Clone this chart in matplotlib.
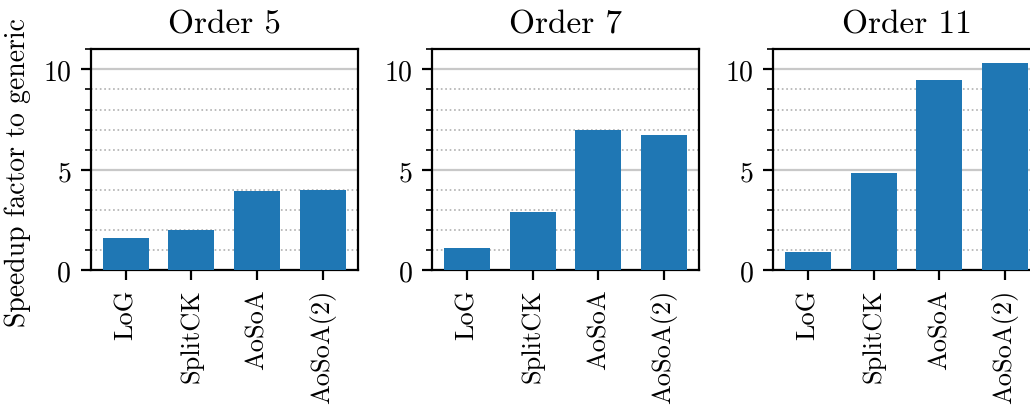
import numpy as np
import matplotlib
matplotlib.use("Agg")
import matplotlib.pyplot as plt
from matplotlib.ticker import MultipleLocator

# Computer Modern っぽいフォント
plt.rcParams['font.family'] = 'serif'
plt.rcParams['font.serif'] = ['cmr10']
plt.rcParams['mathtext.fontset'] = 'cm'
plt.rcParams['axes.formatter.use_mathtext'] = True
plt.rcParams['font.size'] = 10
plt.rcParams['axes.unicode_minus'] = False

# データ
variants = ['LoG', 'SplitCK', 'AoSoA', 'AoSoA(2)']
orders = ['Order 5', 'Order 7', 'Order 11']
speedup_o5 = [1.60, 2.00, 3.95, 3.98]
speedup_o7 = [1.10, 2.90, 6.97, 6.72]
speedup_o11 = [0.91, 4.83, 9.45, 10.30]
all_speedups = [speedup_o5, speedup_o7, speedup_o11]

fig = plt.figure(figsize=(5.15, 2.03), dpi=200)
lefts = [90.7 / 1030, 432 / 1030, 773 / 1030]
w = 267 / 1030
bottom = (406 - 271.3) / 406
h = 221 / 406

for i, (title, vals) in enumerate(zip(orders, all_speedups)):
    ax = fig.add_axes([lefts[i], bottom, w, h])
    x = np.arange(len(variants))
    ax.bar(x, vals, width=0.7, color='#1f77b4', zorder=3)
    ax.set_xticks(x)
    ax.set_xticklabels(variants, rotation=90)
    ax.tick_params(axis='x', labelsize=9.5, pad=3)
    ax.set_ylim(0, 11)
    ax.yaxis.set_major_locator(MultipleLocator(5))
    ax.yaxis.set_minor_locator(MultipleLocator(1))
    ax.grid(which='major', axis='y', color='#c8c8c8', linewidth=0.8, zorder=0)
    ax.grid(which='minor', axis='y', color='#b0b0b0', linestyle=':', linewidth=0.6, zorder=0)
    ax.set_axisbelow(True)
    ax.set_title(title, fontsize=12)
    if i == 0:
        ax.set_ylabel('Speedup factor to generic')
        ax.yaxis.label.set_y(0.447)

plt.savefig('out.png', dpi=200)
